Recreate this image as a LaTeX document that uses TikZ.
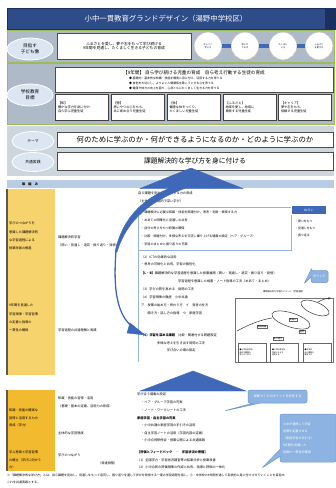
\documentclass[tikz,border=0pt]{standalone}
\usepackage{fontspec}
\newfontfamily\jp{Noto Sans CJK JP}
\usetikzlibrary{shapes.geometric,shapes.callouts,arrows.meta}
\definecolor{titlec}{HTML}{2E4C88}
\definecolor{titled}{HTML}{1C3060}
\definecolor{bandc}{HTML}{AEBAC7}
\definecolor{greenc}{HTML}{9BBB59}
\definecolor{ovalc}{HTML}{DCE6F2}
\definecolor{stripc}{HTML}{B8CCE4}
\definecolor{yelone}{HTML}{F6D36C}
\definecolor{yeltwo}{HTML}{F2BA2E}
\definecolor{bubc}{HTML}{8DB3E2}
\definecolor{bubd}{HTML}{6F97CC}
\definecolor{lineb}{HTML}{95B3D7}
\definecolor{shapeblue}{HTML}{3F69B8}
\newcommand\jpt{\jp\fontsize{3.2}{4}\selectfont}
\newcommand\jpxt{\jp\fontsize{2.2}{2.7}\selectfont}
\newcommand\jps{\jp\fontsize{3.8}{4.6}\selectfont}
\newcommand\jpm{\jp\fontsize{4.6}{5.6}\selectfont}
\tikzset{
  txt/.style={font=\jpt, inner sep=0pt, anchor=west, align=left},
  txtb/.style={txt, font=\jpt\bfseries},
  band/.style={fill=bandc, draw=greenc, line width=0.8pt},
  oval/.style={ellipse, fill=ovalc, draw=white, line width=0.8pt, minimum width=46pt, minimum height=22pt, inner sep=0pt, font=\jpm, align=center},
  circ/.style={circle, fill=white, draw=black!25, line width=0.8pt, minimum size=28pt, inner sep=0pt, font=\jpxt, align=center},
  goalbox/.style={rectangle, fill=white, draw=black!75, line width=0.6pt, minimum width=53pt, minimum height=26pt, inner sep=1.5pt, font=\jpt, align=left, text width=48pt},
  conn/.style={draw=shapeblue, line width=3.5pt},
  bub/.style={rectangle callout, fill=bubc, draw=bubd, line width=0.5pt, rounded corners=2pt, inner sep=1.5pt, font=\jpt, align=left, text=white},
  fbox/.style={rectangle, draw=black!60, fill=white, line width=0.3pt, inner sep=0.6pt, font=\jpxt, align=center},
  blueshape/.style={fill=shapeblue, draw=shapeblue, line width=0.4pt, fill opacity=1, draw opacity=1}
}
\begin{document}
\begin{tikzpicture}[x=1pt,y=-1pt]
\useasboundingbox (0,0) rectangle (336,488);
\fill[white] (0,0) rectangle (336,488);

% title
\fill[titled] (325,8) rectangle (336,30);
\node[rectangle, fill=titlec, draw=titled, line width=1pt, minimum width=318pt, minimum height=21pt, inner sep=0pt, text=white, font=\jp\fontsize{7.4}{8}\selectfont] (title) at (166,19) {小中一貫教育グランドデザイン（湯野中学校区）};

% row 1
\draw[band] (7,30) rectangle (334,62);
\node[oval] (o1) at (30,49) {目指す\\子ども像};
\node[rectangle, fill=white, draw=black!70, line width=0.5pt, minimum width=134pt, minimum height=26pt, inner sep=0pt, font=\jps, align=center] (vision) at (124,46) {ふるさとを愛し、夢や志をもって学び続ける\\9年間を見通し、たくましく生きる子どもの育成};
\node[circ] (c1) at (208,46) {かしこく\\学ぶ子};
\node[circ] (c2) at (245,46) {思いや\\りの子};
\node[circ] (c3) at (283,46) {たくまし\\い子};
\node[circ] (c4) at (319,46) {ふるさと\\を愛す子};

% row 2
\draw[band] (7,63) rectangle (334,124);
\node[oval] (o2) at (30,95) {学校教育\\目標};
\node[rectangle, fill=white, draw=black!70, line width=0.5pt, minimum width=278pt, minimum height=25pt, inner sep=0pt] (goal) at (194,80) {};
\node[font=\jp\fontsize{4.6}{5}\selectfont, inner sep=0pt] (goalt) at (194,73) {【9年間】 自ら学び続ける児童の育成　自ら考え行動する生徒の育成};
\node[font=\jp\fontsize{2.9}{5.2}\selectfont, inner sep=0pt, align=left, anchor=north west] (goall) at (129,76.5) {◆ 基礎的・基本的な知識・技能を確実に身に付け、活用する力を育てる\\◆ 自他を大切にし、よりよい人間関係を築こうとする心を育てる\\◆ 健康や体力の向上を図り、心身ともにたくましく生きる力を育てる};
\node[goalbox] (g1) at (82,107) {【知】\\確かな学力を身に付け\\自ら学ぶ児童生徒};
\node[goalbox] (g2) at (137.5,107) {【徳】\\思いやりの心をもち、\\共に高め合う児童生徒};
\node[goalbox] (g3) at (193.5,107) {【体】\\健康な体をつくり、\\たくましい児童生徒};
\node[goalbox] (g4) at (249.5,107) {【ふるさと】\\地域を愛し、地域に\\貢献する児童生徒};
\node[goalbox] (g5) at (305,107) {【キャリア】\\夢や志をもち、\\挑戦する児童生徒};

% rows 3-4
\fill[bandc!60] (7,126) rectangle (334,176);
\node[oval, minimum width=42pt, minimum height=19pt, font=\jps] (o3) at (33,141) {テーマ};
\node[rectangle, fill=white, draw=black!70, line width=0.5pt, minimum width=276pt, minimum height=15pt, inner sep=0pt, font=\jp\fontsize{7.4}{8}\selectfont] (theme) at (195,140) {何のために学ぶのか・何ができるようになるのか・どのように学ぶのか};
\node[oval, minimum width=42pt, minimum height=19pt, font=\jps] (o4) at (33,162) {共通実践};
\node[rectangle, fill=white, draw=black!70, line width=0.5pt, minimum width=276pt, minimum height=18pt, inner sep=0pt, font=\jp\fontsize{6.8}{8}\selectfont] (common) at (195,161) {課題解決的な学び方を身に付ける};

% header strip
\fill[stripc] (7,180) rectangle (334,188);
\node[font=\jpt\bfseries, inner sep=0pt] (hdr) at (30,184) {取　組　み};

% left yellow columns
\fill[yelone] (7,188.5) rectangle (55,375);
\draw[black!65, line width=1.2pt] (7,188.5) -- (7,375);
\fill[yeltwo] (7,390) rectangle (55,471);
\draw[black!65, line width=1.2pt] (7,390) -- (7,471);

\node[txt, font=\jp\fontsize{3.2}{8.3}\selectfont] (y1) at (9,236) {学びのつながりを\\意識した課題解決的\\な学習過程による\\授業改善の推進};
\node[txt, font=\jp\fontsize{3.2}{8.3}\selectfont] (y2) at (9,318) {9年間を見通した\\学習規律・学習習慣\\の定着と指導の\\一貫性の確保};
\node[txt, font=\jp\fontsize{3.2}{7.6}\selectfont] (y3) at (9,418) {知識・技能の確実な\\習得と活用する力の\\育成（学力）};
\node[txt, font=\jp\fontsize{3.2}{7.6}\selectfont] (y4) at (9,460) {学ぶ意欲と学習習慣\\の確立（学びに向かう\\力）};

% middle column
\node[txt] (m1) at (58,237) {課題解決的学習};
\node[txt] (m2) at (58,245) {（問い・見通し・追究・振り返り・発信）};
\node[txt] (m3) at (58,330) {学習過程の共通理解と実践};
\node[txt] (m4) at (58,398) {知識・技能の習得・活用};
\node[txt] (m5) at (58,406) {（基礎・基本の定着、活用力の育成）};
\node[txt] (m6) at (58,433) {主体的な学習態度};
\node[txt] (m7) at (58,455) {学びのつながり};
\node[txt] (m8) at (98,463) {（発達段階）};

% right column upper
\node[txt] (r1) at (138,193) {自ら課題を見出し、解決する力の育成};
\node[txt] (r2) at (138,201) {（主体的・対話的で深い学び）};
\draw[lineb, line width=0.8pt] (138,207) rectangle (291,250);
\node[txt, font=\jp\fontsize{3.1}{7.9}\selectfont, anchor=north west] (rbox) at (141,211) {・課題解決に必要な知識・技能を関連付け、思考・判断・表現する力\\・めあての明確化と見通しの共有\\・自分の考えをもつ時間の確保\\・比較・関連付け、多様な考えを交流し練り上げる場面の設定（ペア・グループ）\\・学習のまとめと振り返りの充実};
\node[rectangle, fill=shapeblue, draw=white, line width=0.5pt, minimum width=35pt, minimum height=9pt, inner sep=0pt, text=white, font=\jpt] (tag) at (309,210) {ねらい};
\node[txt, font=\jp\fontsize{2.9}{7.4}\selectfont, anchor=north west] (tagl) at (295,219.5) {・問いをもつ\\・見通しをもつ\\・振り返る};
\draw[lineb, line width=0.6pt] (138,250) -- (138,362);
\node[txt] (r3) at (141,257) {（2）ICTの効果的な活用};
\node[txt] (r4) at (141,264) {・思考の可視化と共有、学習の個別化};
\node[txt] (r5) at (141,273) {\textbf{【L・B】}課題解決的な学習過程を意識した授業展開（問い・見通し・追究・振り返り・発信）};
\node[txt] (r6) at (178,281) {学習過程を意識した板書・ノート指導の工夫（めあて・まとめ）};
\node[txt] (r7) at (141,289) {（3）学びの質を高める　発問の工夫};
\node[txt] (r8) at (141,297) {（4）学習規律の徹底　小中共通};
\node[txt] (r9) at (141,305) {ア　授業の始め方・終わり方　イ　発言の仕方};
\node[txt] (r10) at (141,313) {　　聞き方・話し方の指導　ウ　家庭学習};
\node[txt] (r11) at (141,335) {\textbf{（5）学習を深める課題}　比較・関連付ける問題設定};
\node[txt] (r12) at (141,343) {　　　　　多様な考えを引き出す発問の工夫};
\node[txt] (r13) at (141,350) {　　　　　　　　学び合いの場の設定};

\node[bub, callout absolute pointer={(304,284)}, minimum width=17pt, minimum height=12pt] (bp) at (319.5,276.5) {ポイント};

% figure
\node[font=\jpxt, inner sep=0pt] (figt) at (284,292) {課題解決的な学習のイメージ（学習過程）};
\draw[black!55, line width=0.4pt] (235,298) rectangle (333,362);
\draw[black!80, line width=0.5pt] (237,331) .. controls (250,324) and (260,320) .. (272,318);
\draw[black!80, line width=0.5pt, rotate around={-18:(291,320)}] (291,320) ellipse (20 and 7);
\draw[black!80, line width=0.5pt, rotate around={-22:(315,308)}] (315,308) ellipse (15 and 6);
\draw[black!80, line width=0.5pt, -{Stealth[length=3pt]}] (318,302) .. controls (324,299) .. (331,298);
\node[fbox] (f1) at (262,327) {課題把握};
\node[fbox] (f2) at (293,320) {見通し};
\node[fbox] (f3) at (302,332) {追究};
\node[fbox] (f4) at (278,339) {振り返り};
\node[fbox, minimum width=28pt, minimum height=19pt, text width=25pt, align=left, font=\jp\fontsize{1.9}{2.6}\selectfont] (fb1) at (252,352.5) {●小学校低学年\\身近な課題を\\見つけて学ぶ};
\node[fbox, minimum width=28pt, minimum height=19pt, text width=25pt, align=left, font=\jp\fontsize{1.9}{2.6}\selectfont] (fb2) at (284.5,352.5) {●小学校高学年\\見通しをもち\\追究する};
\node[fbox, minimum width=28pt, minimum height=19pt, text width=25pt, align=left, font=\jp\fontsize{1.9}{2.6}\selectfont] (fb3) at (317,352.5) {●中学校\\自ら課題を\\解決する};

% right column lower
\node[txt] (s1) at (137,394) {学び合う場面の設定};
\node[txt] (s2) at (141,402) {・ペア・グループ学習の充実};
\node[txt] (s3) at (141,410) {・ノート・ワークシートの工夫};
\node[txtb] (s4) at (137,418) {家庭学習・自主学習の充実};
\node[txt] (s5) at (141,425) {・小中共通の家庭学習の手引きの活用};
\node[txt] (s6) at (141,433) {・自主学習ノートの活用（学習内容の定着）};
\node[txt] (s7) at (141,440) {・小中合同研修会・授業公開による共通実践};
\node[txtb] (s8) at (137,452) {【評価とフィードバック　―　学習状況の把握】};
\node[txt] (s9) at (137,460) {（1）全国学力・学習状況調査等の結果分析と授業改善};
\node[txt] (s10) at (137,467) {（2）小中合同の評価規準の作成と共有、指導と評価の一体化};

\node[bub, callout absolute pointer={(224,411)}, minimum width=59pt, minimum height=13pt, align=center] (b1) at (277.5,396.5) {授業づくりのポイントを共有する};
\node[bub, callout absolute pointer={(262,468)}, minimum width=56pt, minimum height=48pt, text width=50pt, font=\jp\fontsize{3.1}{7}\selectfont] (b2) at (308,438) {小中が連携して学習\\習慣を定着させる\\（家庭学習の手引き）\\9年間を見通した\\指導の一貫性を確保};

% footnote
\node[txt, font=\jp\fontsize{3}{6.5}\selectfont, anchor=north west] (foot) at (7,474) {※「課題解決的な学び方」とは、自ら課題を見出し、見通しをもって追究し、振り返りを通して学びを発信する一連の学習過程を指し、小・中学校の9年間を通して系統的に身に付けさせていくことを目指す。\\これを共通実践とする。};

% blue shapes drawn last
\draw[conn] (c1.east) -- (c2.west);
\draw[conn] (c2.east) -- (c3.west);
\draw[conn] (c3.east) -- (c4.west);
\path[blueshape] (191,168) -- (243,188.5) -- (140,188.5) -- cycle;
\path[blueshape] (178,185) .. controls (146,196) and (123,215) .. (115,252) -- (117,252) .. controls (127,219) and (152,200) .. (186,188) -- cycle;
\draw[shapeblue, line width=1.3pt] (116,251) .. controls (113,290) and (117,316) .. (134,328);
\path[blueshape] (130,323) -- (145,335) -- (127,333) -- cycle;
\path[blueshape] (193,371) -- (246,391) -- (140,391) -- cycle;
\end{tikzpicture}
\end{document}
